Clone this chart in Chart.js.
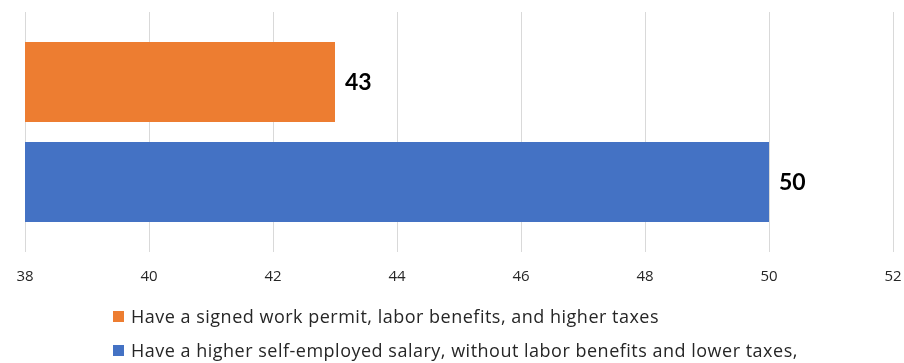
<!DOCTYPE html>
<html>
<head>
<meta charset="utf-8">
<script src="https://cdn.jsdelivr.net/npm/chart.js@4/dist/chart.umd.min.js"></script>
<style>
    html, body { margin: 0; padding: 0; background: #fff; }
    #wrap { position: relative; width: 904px; height: 363px; overflow: hidden; font-family: "Open Sans", sans-serif; }
    #box { position: absolute; left: 0; top: 0; width: 904px; height: 302px; }
    #legend { position: absolute; left: 113px; top: 299px; white-space: nowrap; }
    #legend .item { display: flex; align-items: center; height: 34px; font-size: 18px; letter-spacing: 0.5px; color: #262626; }
    #legend .swatch { width: 11px; height: 11px; margin-right: 7px; flex: none; }
</style>
</head>
<body>
<div id="wrap">
    <div id="box"><canvas id="chart"></canvas></div>
    <div id="legend"></div>
</div>
<script>
const seriesLabels = [
    'Have a signed work permit, labor benefits, and higher taxes',
    'Have a higher self-employed salary, without labor benefits and lower taxes,'
];
const seriesValues = [43, 50];
const seriesColors = ['#ED7D31', '#4472C4'];
const xTicks = [38, 40, 42, 44, 46, 48, 50, 52];

// value labels just past the end of each bar
const barValues = {
    id: 'barValues',
    afterDatasetsDraw(chart) {
        const ctx = chart.ctx;
        ctx.save();
        ctx.font = 'bold 23px Lato, sans-serif';
        ctx.fillStyle = '#000';
        ctx.textBaseline = 'middle';
        ctx.textAlign = 'left';
        chart.data.datasets.forEach((ds, i) => {
            chart.getDatasetMeta(i).data.forEach((bar, j) => {
                ctx.fillText(String(ds.data[j]), bar.x + 10, bar.y + 1);
            });
        });
        ctx.restore();
    }
};

const chart = new Chart(document.getElementById('chart'), {
    type: 'bar',
    data: {
        labels: [''],
        datasets: seriesLabels.map((label, i) => ({
            label: label,
            data: [seriesValues[i]],
            backgroundColor: seriesColors[i],
            borderWidth: 0,
            categoryPercentage: 0.833,
            barPercentage: 0.8
        }))
    },
    options: {
        indexAxis: 'y',
        responsive: true,
        maintainAspectRatio: false,
        animation: false,
        layout: { padding: { left: 25, right: 11, top: 12, bottom: 0 } },
        plugins: {
            legend: { display: false },
            tooltip: { enabled: false }
        },
        scales: {
            x: {
                min: xTicks[0],
                max: xTicks[xTicks.length - 1],
                afterBuildTicks: axis => { axis.ticks = xTicks.map(v => ({ value: v })); },
                // the outer tick labels fit inside the layout padding already
                afterFit: axis => { axis.paddingLeft = 0; axis.paddingRight = 0; },
                border: { display: false },
                grid: { color: '#d9d9d9', lineWidth: 1, drawTicks: false },
                ticks: {
                    padding: 16,
                    color: '#262626',
                    font: { family: '"Open Sans", sans-serif', size: 15 }
                }
            },
            y: {
                display: false
            }
        }
    },
    plugins: [barValues]
});

// legend rows built from the datasets
const legend = document.getElementById('legend');
legend.innerHTML = chart.data.datasets.map(ds => `
    <div class="item"><span class="swatch" style="background:${ds.backgroundColor}"></span>${ds.label}</div>
`).join('');
</script>
</body>
</html>
